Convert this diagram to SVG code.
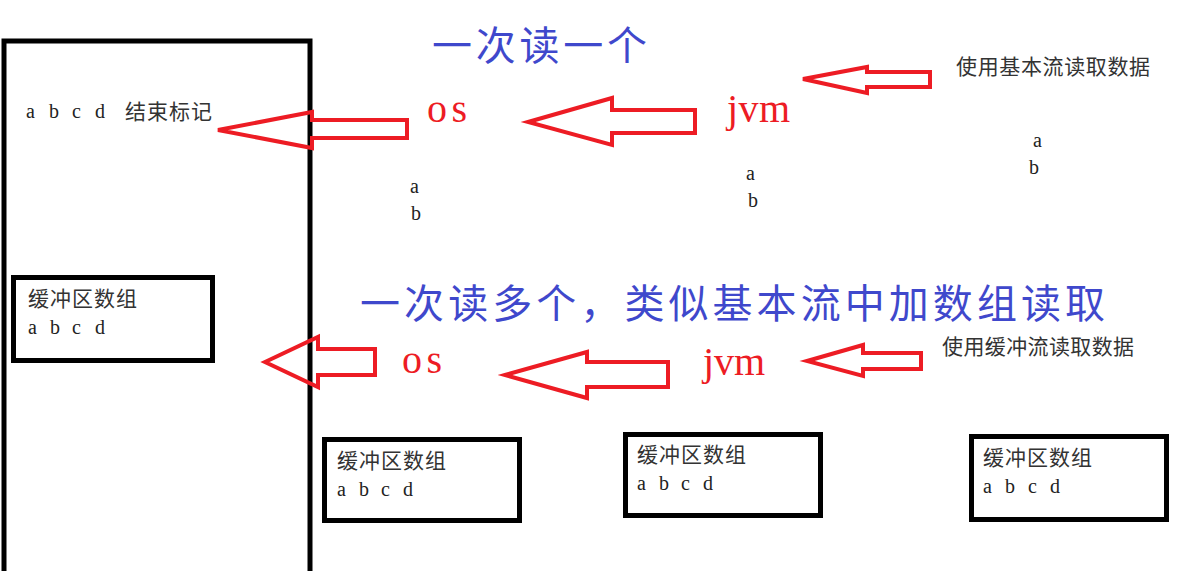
<svg xmlns="http://www.w3.org/2000/svg" width="1193" height="571" viewBox="0 0 1193 571">
<style>
.frame{fill:none;stroke:#000;stroke-width:5}
.box{fill:#fff;stroke:#000;stroke-width:5}
.arrow{fill:none;stroke:#ED1C24;stroke-width:4;stroke-linejoin:miter}
.title{font-family:"Noto Sans CJK SC",sans-serif;font-size:40px;fill:#3F48CC}
.red{font-family:"Liberation Serif",serif;font-size:40px;fill:#ED1C24}
.small{font-family:"Noto Sans CJK SC",sans-serif;font-size:21px;fill:#333}
.lat{font-family:"Liberation Serif",serif;font-size:20px;fill:#222}
</style>
<rect width="1193" height="571" fill="#fff"/>
<g id="memory">
<rect class="frame" x="4" y="41" width="306" height="560"/>
<text class="lat" x="26 37 49 60 72 83 95" y="118">a b c d</text>
<text class="small" x="125" y="119" textLength="87">结束标记</text>
</g>
<g id="buffer-left">
<rect class="box" x="13.5" y="277.5" width="199" height="83"/>
<text class="small" x="28" y="306" textLength="109">缓冲区数组</text>
<text class="lat" x="28 39 50 61 72 83 95" y="334">a b c d</text>
</g>
<g id="buffer-b">
<rect class="box" x="324.5" y="439.5" width="195" height="81"/>
<text class="small" x="337" y="468" textLength="109">缓冲区数组</text>
<text class="lat" x="337 348 359 370 381 392 403" y="496">a b c d</text>
</g>
<g id="buffer-c">
<rect class="box" x="625.5" y="434.5" width="195" height="81"/>
<text class="small" x="637" y="462" textLength="109">缓冲区数组</text>
<text class="lat" x="637 648 659 670 681 692 703" y="490">a b c d</text>
</g>
<g id="buffer-d">
<rect class="box" x="971.5" y="436.5" width="195" height="83"/>
<text class="small" x="983" y="465" textLength="109">缓冲区数组</text>
<text class="lat" x="983 994 1005 1016 1028 1039 1050" y="493">a b c d</text>
</g>
<g id="titles">
<text class="title" x="432" y="60" textLength="215">一次读一个</text>
<text class="title" x="360" y="318" textLength="745">一次读多个，类似基本流中加数组读取</text>
</g>
<g id="labels">
<text class="red" x="427" y="122" textLength="40">os</text>
<text class="red" x="727" y="122" textLength="63">jvm</text>
<text class="red" x="402" y="373" textLength="40">os</text>
<text class="red" x="703" y="375" textLength="62">jvm</text>
<text class="small" x="956" y="74" textLength="194">使用基本流读取数据</text>
<text class="small" x="942" y="354" textLength="192">使用缓冲流读取数据</text>
<text class="lat" x="410" y="193">a</text>
<text class="lat" x="411" y="220">b</text>
<text class="lat" x="746" y="180">a</text>
<text class="lat" x="748" y="207">b</text>
<text class="lat" x="1033" y="147">a</text>
<text class="lat" x="1029" y="174">b</text>
</g>
<g id="connectors">
<polygon class="arrow" points="218,130 312,112 312,120 407,120 407,138 312,138 312,148"/>
<polygon class="arrow" points="528,122 612,98 612,110 695,110 695,133 612,133 612,145"/>
<polygon class="arrow" points="803,79 867,67 867,72 930,72 930,87 867,87 867,93"/>
<polygon class="arrow" points="265,362 318,337 318,349 375,349 375,375 318,375 318,387"/>
<polygon class="arrow" points="505,375 587,352 587,362 668,362 668,387 587,387 587,398"/>
<polygon class="arrow" points="807,361 863,345 863,353 921,353 921,369 863,369 863,376"/>
</g>
</svg>
